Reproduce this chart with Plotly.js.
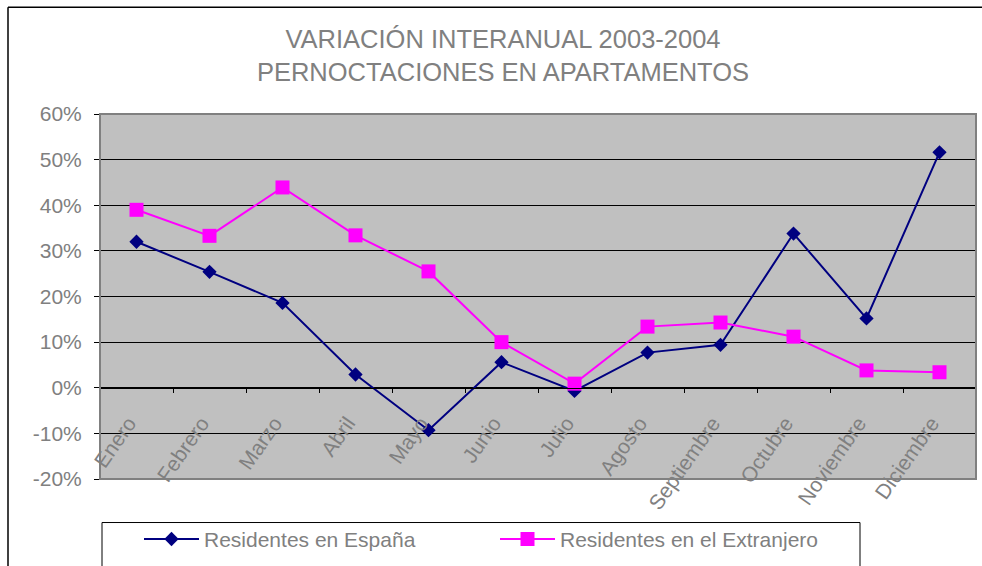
<!DOCTYPE html>
<html>
<head>
<meta charset="utf-8">
<script src="https://cdn.plot.ly/plotly-3.0.1.min.js"></script>
<style>
  html, body { margin: 0; padding: 0; background: #fff; }
  #chart { width: 982px; height: 566px; }
</style>
</head>
<body>
<div id="chart"></div>
<script>
const months = ['Enero','Febrero','Marzo','Abril','Mayo','Junio','Julio','Agosto','Septiembre','Octubre','Noviembre','Diciembre'];
const espana = [0.320, 0.254, 0.186, 0.029, -0.093, 0.056, -0.007, 0.077, 0.094, 0.338, 0.152, 0.516];
const extranjero = [0.390, 0.333, 0.439, 0.334, 0.255, 0.100, 0.009, 0.134, 0.143, 0.112, 0.038, 0.034];
const seriesNames = ['Residentes en España', 'Residentes en el Extranjero'];
const titleLines = ['VARIACIÓN INTERANUAL 2003-2004', 'PERNOCTACIONES EN APARTAMENTOS'];
const yTickVals = [-0.2, -0.1, 0, 0.1, 0.2, 0.3, 0.4, 0.5, 0.6];
const yTickText = ['-20%', '-10%', '0%', '10%', '20%', '30%', '40%', '50%', '60%'];

const W = 982, H = 566;
const M = {l: 100, r: 6, t: 114, b: 83};
const PW = W - M.l - M.r, PH = H - M.t - M.b;
const px = x => (x - M.l) / PW;
const py = y => (H - M.b - y) / PH;

const FONT = 'Liberation Sans, Arial, Helvetica, sans-serif';
const GRAY = '#808080';

const traces = [
  {
    x: months, y: espana, name: seriesNames[0], type: 'scatter', mode: 'lines+markers',
    line: {color: '#000080', width: 2},
    marker: {symbol: 'diamond', size: 11, color: '#000080'}
  },
  {
    x: months, y: extranjero, name: seriesNames[1], type: 'scatter', mode: 'lines+markers',
    line: {color: '#FF00FF', width: 2},
    marker: {symbol: 'square', size: 14, color: '#FF00FF'}
  }
];

const layout = {
  width: W, height: H,
  margin: M,
  paper_bgcolor: '#ffffff',
  plot_bgcolor: '#C0C0C0',
  font: {family: FONT, color: GRAY, size: 21},
  title: {
    text: titleLines.join('<br>'),
    font: {family: FONT, size: 25.5, color: GRAY},
    xref: 'container', x: 503 / W, xanchor: 'center',
    yref: 'container', y: 1 - 48 / H, yanchor: 'middle'
  },
  xaxis: {
    type: 'category',
    range: [-0.5, 11.5],
    anchor: 'free', position: 0.25,
    showline: true, linecolor: '#000000', linewidth: 1,
    showgrid: false, zeroline: false,
    ticks: 'outside', ticklen: 4, tickcolor: '#000000', tickson: 'boundaries',
    tickangle: -55,
    tickfont: {family: FONT, size: 21, color: GRAY},
    ticklabelstandoff: 14,
    ticklabelshift: -8,
    fixedrange: true
  },
  yaxis: {
    range: [-0.2, 0.6],
    tickmode: 'array', tickvals: yTickVals, ticktext: yTickText,
    showline: true, linecolor: '#000000', linewidth: 1,
    showgrid: true, gridcolor: '#000000', gridwidth: 1,
    zeroline: true, zerolinecolor: '#000000', zerolinewidth: 1,
    ticks: 'outside', ticklen: 5, tickcolor: '#000000',
    tickfont: {family: FONT, size: 21, color: GRAY},
    ticklabelstandoff: 8,
    fixedrange: true
  },
  showlegend: true,
  legend: {
    orientation: 'h',
    x: px(139), xanchor: 'left',
    y: py(544), yanchor: 'middle',
    bgcolor: 'rgba(0,0,0,0)',
    borderwidth: 0,
    font: {family: FONT, size: 21, color: GRAY},
    itemwidth: 55,
    entrywidth: 286,
    entrywidthmode: 'pixels'
  },
  shapes: [
    {type: 'rect', xref: 'paper', yref: 'paper', x0: 0, x1: 1, y0: 0, y1: 1,
     line: {color: GRAY, width: 2}, layer: 'above'},
    {type: 'line', xref: 'paper', yref: 'paper', x0: px(8), x1: px(8), y0: py(6), y1: py(600),
     line: {color: '#000000', width: 1.5}},
    {type: 'line', xref: 'paper', yref: 'paper', x0: px(8), x1: px(990), y0: py(6), y1: py(6),
     line: {color: '#000000', width: 1.5}},
    {type: 'rect', xref: 'paper', yref: 'paper', x0: px(102), x1: px(860), y0: py(527), y1: py(620),
     line: {color: '#000000', width: 1}}
  ]
};

Plotly.newPlot('chart', traces, layout, {displayModeBar: false, staticPlot: true});
</script>
</body>
</html>
